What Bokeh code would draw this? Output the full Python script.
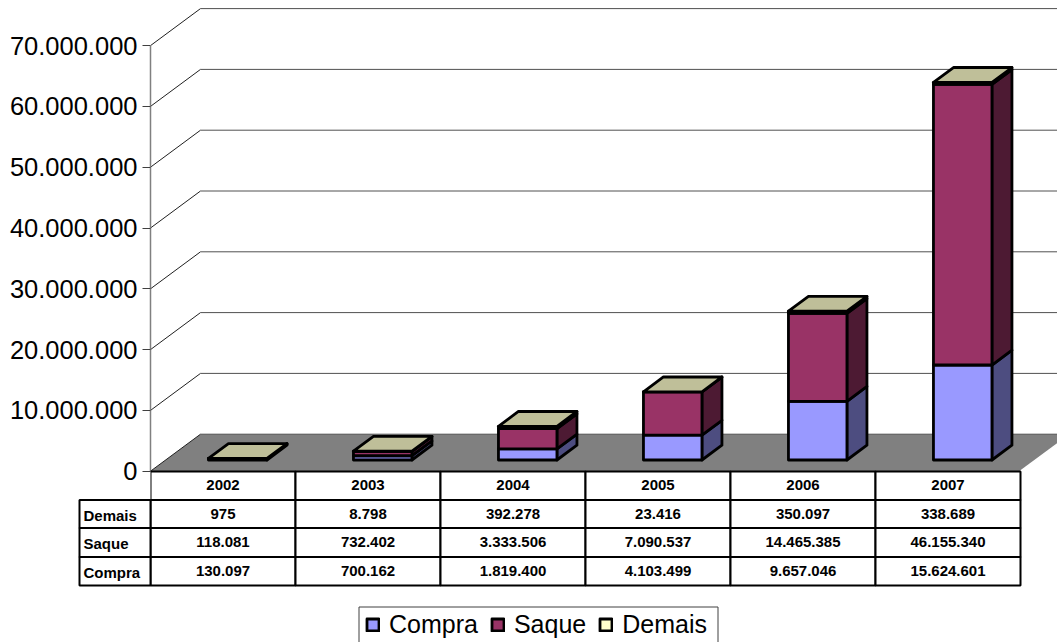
from bokeh.embed import file_html
from bokeh.models import (BoxAnnotation, FixedTicker, Label, Legend, LegendItem,
                          Range1d)
from bokeh.plotting import figure
from bokeh.core.properties import value
from bokeh.resources import INLINE

years = ["2002", "2003", "2004", "2005", "2006", "2007"]
compra = [130097, 700162, 1819400, 4103499, 9657046, 15624601]
saque = [118081, 732402, 3333506, 7090537, 14465385, 46155340]
demais = [975, 8798, 392278, 23416, 350097, 338689]
tick_values = [0, 10000000, 20000000, 30000000, 40000000, 50000000, 60000000, 70000000]
series_names = ["Compra", "Saque", "Demais"]
series_values = [compra, saque, demais]
front_colors = ["#9999FF", "#993366", "#FFFFCC"]
side_colors = ["#4D4D80", "#4D1A33", "#80805C"]
top_color = "#BFBF99"

WIDTH, HEIGHT = 1057, 642
LEFT = 150                # plot frame starts here; the axis sits on this edge
CELL = 145.0              # pixels per category
ZERO = 470.7              # pixel row of the value 0
PER_VALUE = 60.8 / 1e7    # pixels per unit of value


def dots(v):
    return f"{v:,}".replace(",", ".")


def dx(px):
    return px / CELL


def dy(px):
    return px / PER_VALUE


def cat_x(px):
    return -0.5 + dx(px - LEFT)


def val_y(py):
    return dy(ZERO - py)


p = figure(
    width=WIDTH, height=HEIGHT, output_backend="svg", toolbar_location=None,
    x_axis_location=None, y_axis_location="left",
    x_range=Range1d(-0.5, -0.5 + (WIDTH - LEFT) / CELL),
    y_range=Range1d(dy(ZERO - HEIGHT), dy(ZERO)),
    min_border_left=LEFT, min_border_right=0, min_border_top=0, min_border_bottom=0,
    outline_line_color=None, background_fill_color="white", border_fill_color="white",
    margin=0,
)
p.grid.visible = False

axis = p.yaxis[0]
axis.bounds = (0, tick_values[-1])
axis.ticker = FixedTicker(ticks=tick_values)
axis.major_label_overrides = {v: dots(v) for v in tick_values}
axis.major_label_text_font = "Liberation Sans"
axis.major_label_text_font_size = "25.5px"
axis.major_label_text_color = "black"
axis.major_label_standoff = 5
axis.axis_line_color = "#808080"
axis.axis_line_width = 1.5
axis.major_tick_line_color = "#404040"
axis.major_tick_line_width = 1
axis.major_tick_in = 0
axis.major_tick_out = 8
axis.minor_tick_line_color = None

# Floor and back wall of the 3D box
x0, x1 = -0.5, -0.5 + len(years)
DX, DY = dx(50), dy(37)
p.patch([x0, x0 + DX, x1 + DX, x1], [0, DY, DY, 0], fill_color="#808080", line_color=None)
p.segment([x0] * len(tick_values), tick_values, [x0 + DX] * len(tick_values),
          [v + DY for v in tick_values], line_color="#202020", line_width=1)
p.segment([x0 + DX] * len(tick_values), [v + DY for v in tick_values],
          [x1 + DX] * len(tick_values), [v + DY for v in tick_values],
          line_color="#505050", line_width=1)
p.line([x1, x1 + DX], [0, DY], line_color="white", line_width=1.5)

# Stacked bars: side face, front face, and a top face on the last series
bar_half = dx(29.25)
front_dx, front_dy = dx(14.7), dy(11.2)
side_dx, side_dy = dx(20), dy(14.8)
bases = [0] * len(years)
legend_items = []
stroke = dict(line_color="black", line_width=2.8, line_join="round")
for name, values, fc, sc in zip(series_names, series_values, front_colors, side_colors):
    lefts = [i + front_dx - bar_half for i in range(len(years))]
    rights = [i + front_dx + bar_half for i in range(len(years))]
    bottoms = [b + front_dy for b in bases]
    tops = [b + v for b, v in zip(bottoms, values)]
    p.patches(
        [[r, r + side_dx, r + side_dx, r] for r in rights],
        [[b, b + side_dy, t + side_dy, t] for b, t in zip(bottoms, tops)],
        fill_color=sc, **stroke,
    )
    front = p.quad(left=lefts, right=rights, bottom=bottoms, top=tops, fill_color=fc, **stroke)
    legend_items.append(LegendItem(label=name, renderers=[front]))
    bases = [b + v for b, v in zip(bases, values)]

p.patches(
    [[l, r, r + side_dx, l + side_dx] for l, r in zip(lefts, rights)],
    [[t, t, t + side_dy, t + side_dy] for t in tops],
    fill_color=top_color, **stroke,
)

# Legend frame runs off the bottom of the page, so it is drawn as its own box
p.quad(left=[cat_x(358.5)], right=[cat_x(717.5)], top=[val_y(606.5)], bottom=[val_y(660)],
       fill_color="white", line_color="#404040", line_width=1)
legend = Legend(
    items=legend_items, orientation="horizontal", location=(215, 3),
    label_text_font="Liberation Sans", label_text_font_size="25px",
    label_text_color="black", label_standoff=9, spacing=12, padding=4, margin=0,
    glyph_width=15, glyph_height=15, border_line_color=None,
    background_fill_alpha=0,
)
p.add_layout(legend)


# Data table below the floor, placed in pixels relative to the plot frame
def cell(px0, px1, py0, py1):
    p.add_layout(BoxAnnotation(
        left=px0 - LEFT, right=px1 - LEFT, top=HEIGHT - py0, bottom=HEIGHT - py1,
        left_units="screen", right_units="screen", top_units="screen", bottom_units="screen",
        fill_color="white", fill_alpha=1, line_color="black", line_width=2, line_alpha=1,
        level="annotation", editable=False,
    ))


def caption(text, px, py, align="center"):
    p.add_layout(Label(
        x=px - LEFT, y=HEIGHT - py, x_units="screen", y_units="screen", text=text,
        text_align=align, text_baseline="middle", text_font="Liberation Sans",
        text_font_size="15px", text_font_style="bold", text_color="black",
    ))


row_edges = [471, 499.5, 527.5, 556.5, 585]
table_rows = [years, [dots(v) for v in demais], [dots(v) for v in saque], [dots(v) for v in compra]]
row_names = ["Demais", "Saque", "Compra"]
for r, row in enumerate(table_rows):
    top_px, bottom_px = row_edges[r], row_edges[r + 1]
    for i, text in enumerate(row):
        cell(LEFT + CELL * i, LEFT + CELL * (i + 1), top_px, bottom_px)
        caption(text, LEFT + CELL * (i + 0.5), (top_px + bottom_px) / 2 - 0.5)

# Row names sit left of the axis: a small transparent figure laid over the margin
NAMES_TOP, NAMES_H, NAMES_W = 490, 105, 152
names = figure(
    width=NAMES_W, height=NAMES_H, output_backend="svg", toolbar_location=None,
    x_axis_location=None, y_axis_location=None,
    x_range=Range1d(0, NAMES_W), y_range=Range1d(NAMES_TOP + NAMES_H, NAMES_TOP),
    min_border_left=0, min_border_right=0, min_border_top=0, min_border_bottom=0,
    outline_line_color=None, background_fill_alpha=0, border_fill_alpha=0, margin=0,
    styles={"position": "absolute", "left": "0px", "top": f"{NAMES_TOP}px"},
)
names.grid.visible = False
edges = row_edges[1:]
names.quad(left=[79] * 3, right=[LEFT] * 3, top=edges[:-1], bottom=edges[1:],
           fill_color="white", line_color="black", line_width=2)
names.text(x=[83] * 3, y=[(a + b) / 2 + 1 for a, b in zip(edges[:-1], edges[1:])], text=row_names,
           text_align="left", text_baseline="middle", text_font=value("Liberation Sans"),
           text_font_size="15px", text_font_style="bold", text_color="black")

open("out.html", "w").write(file_html([p, names], INLINE))
